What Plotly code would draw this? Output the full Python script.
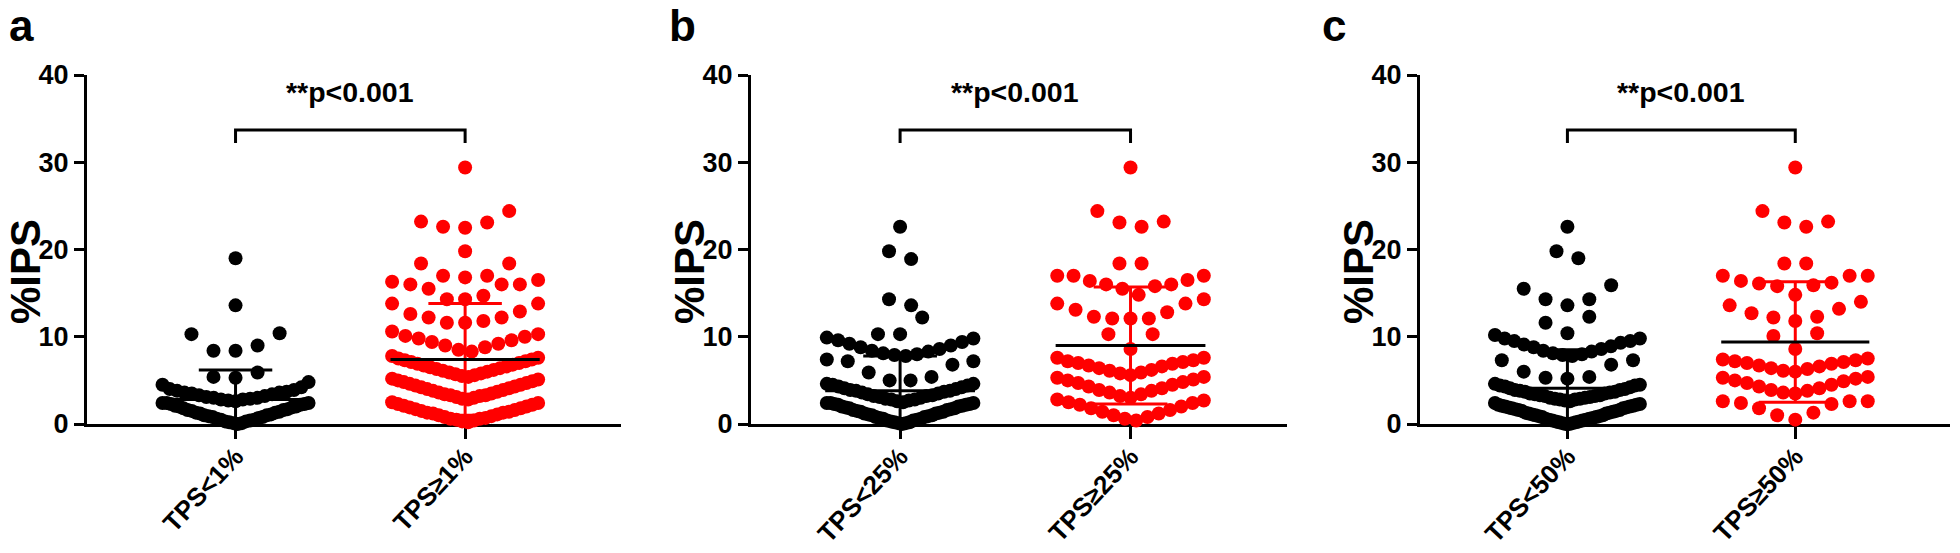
import plotly.graph_objects as go

# ---- data (%IPS per patient, per TPS group) ----
panels = ["a", "b", "c"]
group_labels = [["TPS<1%", "TPS≥1%"], ["TPS<25%", "TPS≥25%"], ["TPS<50%", "TPS≥50%"]]

a_low = [0.0, 0.1, 0.1, 0.2, 0.3, 0.3, 0.4, 0.5, 0.5, 0.6, 0.7, 0.8, 0.8, 0.9, 1.0, 1.0,
         1.1, 1.2, 1.3, 1.3, 1.4, 1.5, 1.6, 1.6, 1.7, 1.8, 1.9, 2.0, 2.0, 2.1, 2.2, 2.3,
         2.3, 2.4, 2.4, 2.4,
         2.6, 2.7, 2.8, 2.8, 2.9, 3.0, 3.0, 3.1, 3.2, 3.3, 3.4, 3.5, 3.6, 3.6, 3.7, 3.8,
         3.9, 4.0, 4.2, 4.5, 4.8,
         5.3, 5.4, 5.9, 8.4, 8.4, 9.0, 10.3, 10.4, 13.6, 19.0]
a_high = [0.2, 0.3, 0.4, 0.5, 0.6, 0.6, 0.7, 0.8, 0.9, 1.0, 1.1, 1.2, 1.3, 1.3, 1.4, 1.5,
          1.6, 1.7, 1.8, 1.9, 2.0, 2.1, 2.2, 2.3, 2.4, 2.5,
          2.8, 2.9, 3.0, 3.1, 3.2, 3.3, 3.3, 3.4, 3.5, 3.6, 3.7, 3.8, 3.9, 4.0, 4.1, 4.2,
          4.3, 4.4, 4.5, 4.6, 4.7, 4.8, 4.9, 5.0, 5.1, 5.2,
          5.4, 5.5, 5.6, 5.7, 5.8, 5.9, 6.0, 6.1, 6.2, 6.3, 6.4, 6.5, 6.6, 6.7, 6.8, 6.9,
          7.0, 7.1, 7.2, 7.3, 7.4, 7.5, 7.6, 7.8,
          8.3, 8.5, 8.8, 9.0, 9.2, 9.4, 9.6, 9.8, 10.0, 10.1, 10.3, 10.6,
          11.6, 11.6, 11.8, 12.2, 12.2, 12.6, 12.9, 13.8, 13.8,
          14.3, 14.3, 14.7, 15.5, 16.0, 16.0, 16.0, 16.3, 16.5,
          16.8, 17.0, 17.0, 18.4, 18.4, 19.8, 22.5, 22.6, 23.1, 23.2, 24.4, 29.4]

b_low = [0.0, 0.1, 0.1, 0.2, 0.2, 0.3, 0.4, 0.4, 0.5, 0.6, 0.6, 0.7, 0.8, 0.8, 0.9, 1.0,
         1.0, 1.1, 1.2, 1.2, 1.3, 1.4, 1.4, 1.5, 1.6, 1.6, 1.7, 1.8, 1.8, 1.9, 2.0, 2.0,
         2.1, 2.2, 2.2, 2.3, 2.3, 2.4, 2.4, 2.4,
         2.5, 2.6, 2.7, 2.8, 2.8, 2.9, 3.0, 3.1, 3.2, 3.2, 3.3, 3.4, 3.5, 3.6, 3.7, 3.8,
         3.8, 3.9, 4.0, 4.1, 4.2, 4.3, 4.4, 4.5, 4.6, 4.6,
         5.0, 5.0, 5.4, 5.9, 6.8, 7.2, 7.2, 7.4,
         7.8, 7.9, 8.0, 8.1, 8.3, 8.4, 8.6, 8.8, 9.0, 9.2, 9.4, 9.6, 9.8, 9.9,
         10.3, 10.3, 12.2, 13.6, 14.3, 18.9, 19.8, 22.6]
b_high = [0.4, 0.6, 0.8, 1.0, 1.2, 1.4, 1.6, 1.8, 2.0, 2.2, 2.4, 2.5, 2.7, 2.8,
          3.0, 3.2, 3.4, 3.6, 3.8, 3.9, 4.1, 4.3, 4.5, 4.7, 4.8, 5.0, 5.1, 5.3, 5.4,
          5.6, 5.8, 5.9, 6.1, 6.2, 6.4, 6.6, 6.7, 6.9, 7.0, 7.1, 7.2, 7.3, 7.6, 7.6,
          8.6, 10.3, 10.3,
          12.1, 12.1, 12.1, 12.3, 12.8, 13.1, 13.8, 13.8, 14.3,
          14.8, 15.5, 15.8, 16.0, 16.0, 16.4, 16.5, 17.0, 17.0, 17.0,
          18.4, 18.4, 22.6, 23.1, 23.2, 24.4, 29.4]

c_low = [0.0, 0.0, 0.1, 0.1, 0.2, 0.2, 0.3, 0.3, 0.4, 0.4, 0.5, 0.5, 0.6, 0.6, 0.7, 0.8,
         0.8, 0.9, 0.9, 1.0, 1.0, 1.1, 1.2, 1.2, 1.3, 1.3, 1.4, 1.5, 1.5, 1.6, 1.6, 1.7,
         1.8, 1.8, 1.9, 1.9, 2.0, 2.0, 2.1, 2.1, 2.2, 2.2, 2.3, 2.4,
         2.6, 2.7, 2.8, 2.8, 2.9, 2.9, 3.0, 3.0, 3.1, 3.2, 3.2, 3.3, 3.3, 3.4, 3.5, 3.5,
         3.6, 3.7, 3.7, 3.8, 3.9, 3.9, 4.0, 4.1, 4.2, 4.3, 4.4, 4.4, 4.5, 4.6,
         5.2, 5.3, 5.4, 6.0, 6.8, 7.3, 7.3,
         7.8, 7.9, 8.0, 8.1, 8.3, 8.4, 8.6, 8.8, 8.9, 9.1, 9.3, 9.5, 9.5, 9.8, 9.8, 10.2,
         10.4, 11.6, 12.3, 13.6, 14.3, 14.3, 15.5, 15.9, 19.0, 19.8, 22.6]
c_high = [0.5, 1.0, 1.3, 1.8, 2.3, 2.4, 2.6, 2.6, 2.6,
          3.5, 3.6, 3.8, 3.9, 4.1, 4.3, 4.5, 4.7, 4.9, 5.0, 5.2, 5.3, 5.4,
          6.0, 6.1, 6.3, 6.4, 6.6, 6.7, 6.9, 7.0, 7.1, 7.2, 7.3, 7.4, 7.5,
          8.6, 10.1, 10.4,
          11.8, 12.2, 12.3, 12.7, 13.2, 13.6, 14.0,
          14.8, 15.8, 15.9, 16.1, 16.2, 16.4, 17.0, 17.0, 17.0,
          18.4, 18.4, 22.6, 23.1, 23.2, 24.4, 29.4]

groups = [[a_low, a_high], [b_low, b_high], [c_low, c_high]]

# mean and SD as drawn in the figure
means = [[2.8, 7.4], [3.8, 9.0], [4.1, 9.4]]
sds = [[3.4, 6.4], [4.0, 6.7], [4.4, 6.9]]
p_text = ["**p<0.001", "**p<0.001", "**p<0.001"]

y_ticks = [0, 10, 20, 30, 40]

# ---- layout constants (pixels of the 1960x553 page) ----
W, H = 1960, 553
axis_left = [87, 751, 1420]
axis_right = [621, 1287, 1950]
letter_x = [8, 668, 1321]
y_top_px, y_bot_px = 75, 424
x_range = [-0.647, 1.679]
FONT = "Liberation Sans, Arial, Helvetica, sans-serif"
RED = "#ff0000"
colors = ["black", RED]


def fx(px):
    return px / W


def fy(py):
    return 1 - py / H


def swarm(values, center, h=2.5, step=0.096, half=0.318):
    # Prism-like scatter: values binned in rows, lowest in the middle
    vals = sorted(values)
    xs, ys = [], []
    i = 0
    while i < len(vals):
        start = vals[i]
        row = []
        while i < len(vals) and vals[i] < start + h - 1e-9:
            row.append(vals[i])
            i += 1
        n = len(row)
        d = step if n < 2 else min(step, 2 * half / (n - 1))
        shift = 0.5 if n % 2 == 0 else 0.0
        for k, v in enumerate(row):
            m = (k + 1) // 2
            o = -m if k % 2 else m
            xs.append(center + (o + shift) * d)
            ys.append(v)
    return xs, ys


fig = go.Figure()
annotations = []

for p in range(3):
    xa = "x" if p == 0 else f"x{p + 1}"
    ya = "y" if p == 0 else f"y{p + 1}"
    for g in range(2):
        xs, ys = swarm(groups[p][g], g)
        fig.add_trace(go.Scatter(
            x=xs, y=ys, mode="markers", xaxis=xa, yaxis=ya,
            marker=dict(size=14, color=colors[g], line=dict(width=0)),
            cliponaxis=False, showlegend=False, hoverinfo="y"))
        m, s = means[p][g], sds[p][g]
        # SD whiskers with caps
        fig.add_trace(go.Scatter(
            x=[g, g, None, g - 0.16, g + 0.16, None, g - 0.16, g + 0.16],
            y=[m - s, m + s, None, m + s, m + s, None, m - s, m - s],
            mode="lines", xaxis=xa, yaxis=ya, line=dict(color=colors[g], width=3),
            showlegend=False, hoverinfo="skip"))
        # mean line
        fig.add_trace(go.Scatter(
            x=[g - 0.325, g + 0.325], y=[m, m], mode="lines", xaxis=xa, yaxis=ya,
            line=dict(color="black", width=3), showlegend=False, hoverinfo="skip"))
    # significance bracket
    fig.add_trace(go.Scatter(
        x=[0, 0, 1, 1], y=[32.2, 33.7, 33.7, 32.2], mode="lines", xaxis=xa, yaxis=ya,
        line=dict(color="black", width=3), showlegend=False, hoverinfo="skip"))
    annotations.append(dict(
        x=0.5, y=38.0, xref=xa, yref=ya, text=p_text[p], showarrow=False,
        font=dict(size=28.5, family=FONT, color="black", weight="bold"),
        xanchor="center", yanchor="middle"))
    annotations.append(dict(
        x=fx(axis_left[p] - 61), y=fy(272), xref="paper", yref="paper", text="%IPS",
        textangle=-90, showarrow=False, borderpad=0,
        font=dict(size=42, family=FONT, color="black", weight="bold"),
        xanchor="center", yanchor="middle"))
    annotations.append(dict(
        x=fx(letter_x[p]), y=fy(0), xref="paper", yref="paper", text=panels[p],
        showarrow=False, borderpad=0,
        font=dict(size=44, family=FONT, color="black", weight="bold"),
        xanchor="left", yanchor="top"))

    axis_font = dict(size=27, family=FONT, color="black", weight="bold")
    fig.update_layout({
        ("xaxis" if p == 0 else f"xaxis{p + 1}"): dict(
            domain=[fx(axis_left[p]), fx(axis_right[p])], range=x_range,
            anchor=ya, tickmode="array", tickvals=[0, 1], ticktext=group_labels[p],
            tickangle=-47, ticks="outside", ticklen=12, tickwidth=3, tickcolor="black",
            showline=True, linewidth=3, linecolor="black", showgrid=False,
            zeroline=False, layer="below traces", automargin=False,
            ticklabelstandoff=-8,
            tickfont=dict(size=26, family=FONT, color="black", weight="bold")),
        ("yaxis" if p == 0 else f"yaxis{p + 1}"): dict(
            domain=[fy(y_bot_px), fy(y_top_px)], range=[0, 40], anchor=xa,
            tickmode="array", tickvals=y_ticks, ticks="outside", ticklen=10,
            tickwidth=3, tickcolor="black", showline=True, linewidth=3,
            linecolor="black", showgrid=False, zeroline=False, layer="below traces",
            automargin=False, tickfont=axis_font),
    })

fig.update_layout(
    template="none",
    width=W, height=H,
    margin=dict(l=0, r=0, t=0, b=0, pad=0),
    paper_bgcolor="white", plot_bgcolor="white",
    font=dict(family=FONT, color="black"),
    annotations=annotations,
    showlegend=False,
)

# drop the browser's default 8px body margin so the figure fills the window
fig.write_html("out.html", config={"displayModeBar": False},
               post_script="document.body.style.margin = '0';")
